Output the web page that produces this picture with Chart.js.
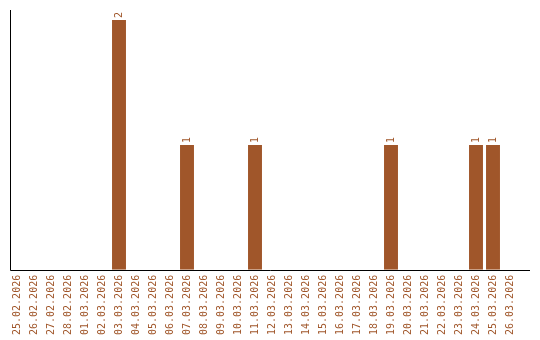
<!DOCTYPE html>
<html>
<head>
<meta charset="utf-8">
<script src="https://cdn.jsdelivr.net/npm/chart.js@4"></script>
<style>
  html, body { margin: 0; padding: 0; background: #fff; }
  #wrap { width: 540px; height: 340px; }
</style>
</head>
<body>
<div id="wrap"><canvas id="chart"></canvas></div>
<script>
const dates = ['25.02.2026', '26.02.2026', '27.02.2026', '28.02.2026', '01.03.2026', '02.03.2026',
    '03.03.2026', '04.03.2026', '05.03.2026', '06.03.2026', '07.03.2026', '08.03.2026',
    '09.03.2026', '10.03.2026', '11.03.2026', '12.03.2026', '13.03.2026', '14.03.2026',
    '15.03.2026', '16.03.2026', '17.03.2026', '18.03.2026', '19.03.2026', '20.03.2026',
    '21.03.2026', '22.03.2026', '23.03.2026', '24.03.2026', '25.03.2026', '26.03.2026'];
const counts = [0, 0, 0, 0, 0, 0, 2, 0, 0, 0, 1, 0, 0, 0, 1, 0, 0, 0, 0, 0, 0, 0, 1, 0, 0, 0, 0, 1, 1, 0];

const barColor = '#a0562a';
const textColor = '#a0562a';
const monoFont = "'DejaVu Sans Mono', monospace";

// rotated value labels above each non-empty bar
const valueLabels = {
    id: 'valueLabels',
    afterDatasetsDraw(chart) {
        const ctx = chart.ctx;
        const meta = chart.getDatasetMeta(0);
        ctx.save();
        ctx.fillStyle = textColor;
        ctx.font = '10px ' + monoFont;
        ctx.textAlign = 'left';
        ctx.textBaseline = 'middle';
        meta.data.forEach((bar, i) => {
            if (!counts[i]) return;
            ctx.save();
            ctx.translate(bar.x, bar.y - 2);
            ctx.rotate(-Math.PI / 2);
            ctx.fillText(String(counts[i]), 0, 0);
            ctx.restore();
        });
        ctx.restore();
    }
};

// axis lines (x axis runs a bit past the last category)
const axisLines = {
    id: 'axisLines',
    afterDraw(chart) {
        const { ctx, chartArea } = chart;
        const x0 = Math.round(chartArea.left) + 1.5;
        const y0 = Math.round(chartArea.bottom) + 0.5;
        ctx.save();
        ctx.strokeStyle = '#000';
        ctx.lineWidth = 1;
        ctx.beginPath();
        ctx.moveTo(x0, chartArea.top);
        ctx.lineTo(x0, y0);
        ctx.lineTo(530, y0);
        ctx.stroke();
        ctx.restore();
    }
};

new Chart(document.getElementById('chart'), {
    type: 'bar',
    data: {
        labels: dates,
        datasets: [{
            data: counts,
            backgroundColor: barColor,
            borderWidth: 0,
            categoryPercentage: 1,
            barPercentage: 0.82
        }]
    },
    options: {
        responsive: true,
        maintainAspectRatio: false,
        animation: false,
        layout: { padding: { left: 8.5, right: 21.5, top: 10, bottom: 0 } },
        plugins: { legend: { display: false }, tooltip: { enabled: false } },
        scales: {
            x: {
                grid: { display: false, drawTicks: false },
                border: { display: false },
                ticks: {
                    color: textColor,
                    font: { family: monoFont, size: 10 },
                    minRotation: 90,
                    maxRotation: 90,
                    autoSkip: false,
                    padding: 5
                }
            },
            y: {
                min: 0,
                max: 2.08,
                display: false
            }
        }
    },
    plugins: [valueLabels, axisLines]
});
</script>
</body>
</html>
